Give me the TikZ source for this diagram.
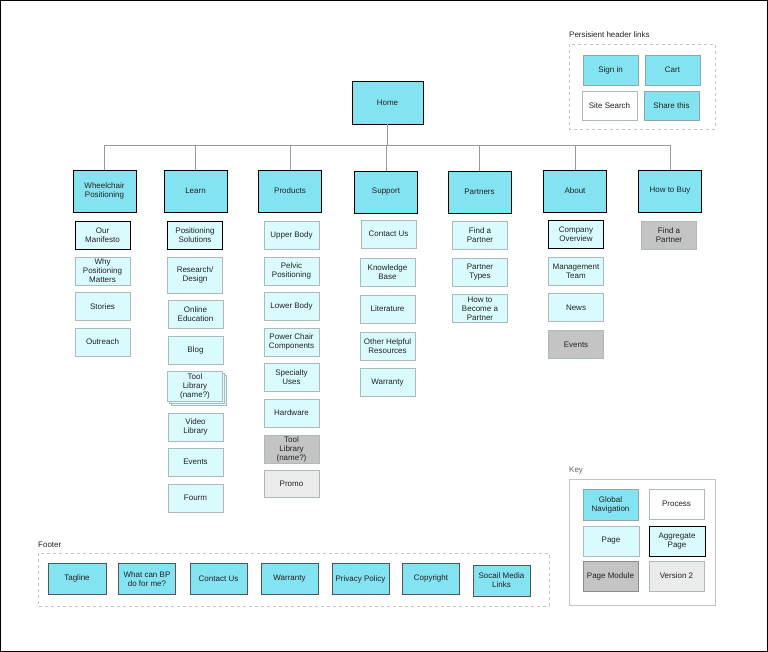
\documentclass[tikz,border=0pt]{standalone}
\usepackage{fontspec}
\setmainfont{Liberation Sans}
\definecolor{navc}{HTML}{84E3F0}
\definecolor{pagec}{HTML}{D9FBFE}
\definecolor{modc}{HTML}{C4C4C4}
\definecolor{vtc}{HTML}{EBEBEB}
\definecolor{pagebd}{HTML}{ADB9BB}
\definecolor{hbd}{HTML}{8AAAB0}
\definecolor{fbd}{HTML}{555555}
\definecolor{txt}{HTML}{222222}
\definecolor{linec}{HTML}{999999}
\definecolor{dashc}{HTML}{C4C4C4}
\begin{document}
\begin{tikzpicture}[x=1pt,y=-1pt,
  box/.style={draw, align=center, inner sep=1pt, font=\fontsize{8}{9}\selectfont, text=txt},
  sz/.style 2 args={minimum width=#1pt, minimum height=#2pt},
  nav/.style={box, fill=navc, draw=black, line width=0.9pt, sz={63}{42}},
  page/.style={box, fill=pagec, draw=pagebd, line width=0.8pt, sz={55}{28}},
  agg/.style={box, fill=pagec, draw=black, line width=0.85pt, sz={55}{28}},
  module/.style={box, fill=modc, draw=pagebd, line width=0.8pt, sz={55}{28}},
  vtwo/.style={box, fill=vtc, draw=pagebd, line width=0.8pt, sz={55}{28}},
  process/.style={box, fill=white, draw=pagebd, line width=0.8pt, sz={55}{29}},
  hnav/.style={box, fill=navc, draw=hbd, line width=0.8pt, sz={55}{30}},
  fnav/.style={box, fill=navc, draw=fbd, line width=0.8pt, sz={57}{31}},
  conn/.style={draw=linec, line width=0.9pt},
  grplabel/.style={anchor=west, inner sep=0pt, font=\fontsize{8}{9}\selectfont, text=txt},
  grpbox/.style={draw=dashc, dashed, line width=0.8pt}
]
\useasboundingbox (0,0) rectangle (768,652);
\draw[black, line width=1pt] (0.5,0.5) rectangle (767.5,651.5);

% Home and top level
\node[nav, sz={71}{43}] (home) at (387.5,102.5) {Home};
\node[nav] (wp) at (104.5,191) {Wheelchair\\Positioning};
\node[nav] (learn) at (195.5,191) {Learn};
\node[nav] (products) at (290,191) {Products};
\node[nav] (support) at (386,192) {Support};
\node[nav] (partners) at (479.5,192) {Partners};
\node[nav] (about) at (575,191) {About};
\node[nav] (howtobuy) at (670,191) {How to Buy};

\foreach \t in {wp,learn,products,support,partners,about,howtobuy}
  \draw[conn] (home.south) -- ++(0,21) -| (\t.north);

% Wheelchair Positioning
\node[agg] (manifesto) at (102.5,235) {Our\\Manifesto};
\node[page] (why) at (102.5,271) {Why\\Positioning\\Matters};
\node[page] (stories) at (102.5,306.5) {Stories};
\node[page] (outreach) at (102.5,342) {Outreach};

% Learn
\node[agg] (possol) at (195,235.5) {Positioning\\Solutions};
\node[page, sz={55}{36}] (research) at (195,275) {Research/\\Design};
\node[page] (online) at (195.5,314) {Online\\Education};
\node[page] (blog) at (195.5,350) {Blog};
\node[page, sz={55}{30}] (toolc) at (199,390) {};
\node[page, sz={55}{30}] (toolb) at (197,388) {};
\node[page, sz={55}{30}] (toollib) at (195,386) {Tool\\Library\\(name?)};
\node[page] (video) at (195.5,427) {Video\\Library};
\node[page] (levents) at (195.5,462) {Events};
\node[page] (fourm) at (195.5,498) {Fourm};

% Products
\node[page] (upper) at (291.5,235) {Upper Body};
\node[page] (pelvic) at (291.5,271) {Pelvic\\Positioning};
\node[page] (lower) at (291.5,306) {Lower Body};
\node[page] (power) at (291.5,342) {Power Chair\\Components};
\node[page] (specialty) at (291.5,377.5) {Specialty\\Uses};
\node[page] (hardware) at (291.5,413) {Hardware};
\node[module] (ptool) at (291.5,449) {Tool\\Library\\(name?)};
\node[vtwo, sz={55}{27}] (promo) at (291.5,483.5) {Promo};

% Support
\node[page] (contact) at (388.5,234) {Contact Us};
\node[page] (knowledge) at (387.5,272) {Knowledge\\Base};
\node[page] (literature) at (387.5,309) {Literature};
\node[page] (other) at (387.5,346) {Other Helpful\\Resources};
\node[page] (swarranty) at (387.5,382.5) {Warranty};

% Partners
\node[page] (findp) at (480,235.5) {Find a\\Partner};
\node[page] (ptypes) at (480,272) {Partner\\Types};
\node[page] (become) at (480,308.5) {How to\\Become a\\Partner};

% About
\node[agg] (company) at (576,234.5) {Company\\Overview};
\node[page] (mgmt) at (576,271.5) {Management\\Team};
\node[page] (news) at (576,307.5) {News};
\node[module] (aevents) at (576,344.5) {Events};

% How to Buy
\node[module] (hfind) at (669,235.5) {Find a\\Partner};

% Header links
\node[grplabel] (hlabel) at (569,35) {Persisient header links};
\draw[grpbox] (569,44) rectangle (715,129);
\node[hnav] (signin) at (610.5,70) {Sign in};
\node[hnav] (cart) at (672.5,70) {Cart};
\node[process] (sitesearch) at (609.5,105.5) {Site Search};
\node[hnav, sz={55}{29}] (share) at (671.5,105.5) {Share this};

% Key
\node[grplabel, text=black!60] (klabel) at (569,471) {Key};
\draw[draw=dashc, line width=0.8pt] (569,479) rectangle (715,605);
\node[hnav, sz={55}{31}] (kgn) at (610.5,504.5) {Global\\Navigation};
\node[process, sz={55}{30}] (kproc) at (676.5,504) {Process};
\node[page, sz={56}{30}] (kpage) at (611,541) {Page};
\node[agg, sz={56}{30}] (kagg) at (677,541) {Aggregate\\Page};
\node[module, sz={55}{30}, draw=black!45] (kmod) at (610.5,576) {Page Module};
\node[vtwo, sz={55}{30}] (kv2) at (676.5,576) {Version 2};

% Footer
\node[grplabel] (flabel) at (38,545) {Footer};
\draw[grpbox] (38,553) rectangle (549,606);
\node[fnav, sz={58}{31}] (tagline) at (77,578.5) {Tagline};
\node[fnav] (whatbp) at (147,579) {What can BP\\do for me?};
\node[fnav] (fcontact) at (218.5,579) {Contact Us};
\node[fnav] (fwarranty) at (289.5,579) {Warranty};
\node[fnav] (privacy) at (360.5,579) {Privacy Policy};
\node[fnav] (copyright) at (431,578.5) {Copyright};
\node[fnav] (social) at (501.5,580.5) {Socail Media\\Links};
\end{tikzpicture}
\end{document}
